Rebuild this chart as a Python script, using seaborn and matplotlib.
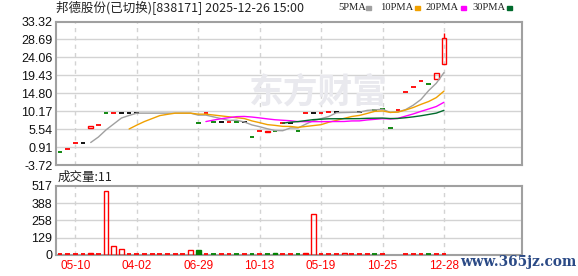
import numpy as np
import pandas as pd
import matplotlib
matplotlib.use("Agg")
import matplotlib.pyplot as plt
import seaborn as sns

# ---------------- data ----------------
opens = [-0.38, 0.40, 2.02, 2.02, 5.86, 6.69, 9.66, 9.66, 9.66, 9.66,
         9.66, 9.66, 9.66, 9.66, 9.66, 9.66, 9.66, 9.66, 7.13, 9.66,
         7.38, 7.38, 7.38, 7.38, 7.38, 3.57, 5.10, 5.17, 5.10, 7.13,
         7.13, 5.10, 9.66, 9.66, 9.66, 9.92, 9.92, 9.92, 9.92, 9.92,
         12.20, 10.60, 10.68, 5.86, 10.50, 15.24, 16.34, 18.03, 17.27, 18.54,
         22.35]
closes = [-0.38, 0.40, 2.02, 2.02, 6.36, 6.69, 9.66, 9.66, 9.66, 9.66,
          9.66, 9.66, 9.66, 9.66, 9.66, 9.66, 9.66, 9.66, 7.13, 9.66,
          7.38, 7.38, 7.38, 7.38, 7.38, 3.57, 5.10, 4.74, 5.10, 7.13,
          7.13, 5.10, 9.66, 9.66, 9.66, 9.92, 9.92, 9.92, 9.92, 9.92,
          12.20, 10.60, 10.68, 5.86, 10.50, 15.24, 16.34, 18.03, 17.27, 20.06,
          28.94]
highs = [-0.38, 0.40, 2.02, 2.02, 6.36, 6.69, 9.66, 9.66, 9.66, 9.66,
         9.66, 9.66, 9.66, 9.66, 9.66, 9.66, 9.66, 9.66, 7.13, 9.66,
         7.38, 7.38, 7.38, 7.38, 7.38, 3.57, 5.10, 5.17, 5.10, 7.13,
         7.13, 5.10, 9.66, 9.66, 9.66, 9.92, 9.92, 9.92, 9.92, 9.92,
         12.20, 10.60, 10.68, 5.86, 10.50, 15.24, 16.34, 18.03, 17.27, 20.06,
         30.47]
# candle style: r=hollow red (up), R=filled red, g=green, k=black, n=hidden under MA line
candle_style = list("grrkrrgrkk" "knnnnnnngr" "gkrgkgrRgr" "kgrkrrknnk" "rgggrrrrgr" "r")

volumes = [2, 2, 2, 2, 13, 2, 477, 63, 41, 2,
           2, 2, 2, 2, 2, 2, 2, 33, 35, 2,
           2, 2, 2, 2, 2, 2, 2, 2, 12, 2,
           2, 2, 10, 304, 2, 2, 2, 15, 2, 2,
           2, 2, 2, 0, 0, 2, 2, 2, 2, 2,
           2]
# volume style: r=hollow red, R=filled red, g=green filled
volume_style = list("rrrrRrrrrr" "rrrrrrrrgr" "grrgrgrggr" "rgRrrrrrrr" "rgrrrrrrgr" "r")

ma_windows = [5, 10, 20, 30]
ma_labels = ["5PMA", "10PMA", "20PMA", "30PMA"]
ma_colors = ["#a0a0a0", "#f0a000", "#ff00ff", "#006a2c"]

price_ticks = [33.32, 28.69, 24.06, 19.43, 14.80, 10.17, 5.54, 0.91, -3.72]
volume_ticks = [517, 388, 258, 129, 0]
date_pos = [2, 10, 18, 26, 34, 42, 50]
date_labels = ["05-10", "04-02", "06-29", "10-13", "05-19", "10-25", "12-28"]

title = "邦德股份(已切换)[838171] 2025-12-26 15:00"
vol_title = "成交量:11"

# ---------------- style ----------------
sns.set_theme(style="white")
plt.rcParams["font.family"] = ["Noto Sans CJK SC", "DejaVu Sans"]

W, H = 578, 276
fig = plt.figure(figsize=(W / 100, H / 100), dpi=100)

def axes_px(left, top, right, bottom):
    return fig.add_axes([left / W, 1 - bottom / H, (right - left) / W, (bottom - top) / H])

ax = axes_px(56, 21.5, 522, 165)
axv = axes_px(56, 186, 522, 254.7)

RED = "#ff0000"
GREEN = "#008000"
GRID = "#d3d3d3"
FRAME = "#a0a0a0"
TICKFONT = "Liberation Sans"

n = len(closes)
x = np.arange(n)
xlim = (-0.52, 60.16)
bw = 0.62

for a in (ax, axv):
    a.set_xlim(*xlim)
    for s in a.spines.values():
        s.set_color(FRAME)
        s.set_linewidth(1.5)
    a.tick_params(axis="both", length=0, pad=2.5)
    a.set_xticks([])
    for p in date_pos:
        a.axvline(p, color=GRID, lw=1, ls=(0, (3, 3)), zorder=0)

# price axis
ax.set_ylim(-3.72, 33.32)
ax.set_yticks(price_ticks)
ax.set_yticklabels([f"{t:.2f}" for t in price_ticks], fontsize=9, family=TICKFONT,
                   color="#111111")
for t in price_ticks[1:-1]:
    ax.axhline(t, color=GRID, lw=1, zorder=0)

# watermark
fig.text(318 / W, 1 - 92 / H, "东方财富", fontsize=25, color="#e9e9ee",
         ha="center", va="center", weight="bold", zorder=0)

# candles
for i in range(n):
    o, c, h, st = opens[i], closes[i], highs[i], candle_style[i]
    if st == "n":
        continue
    lo, hi = min(o, c), max(o, c)
    col = {"r": RED, "R": RED, "g": GREEN, "k": "black"}[st]
    fc = "none" if st == "r" else col
    if h > hi:
        ax.vlines(i, hi, h, color=col, lw=1, zorder=2)
    ht = hi - lo
    if ht < 0.05:
        ax.hlines(o, i - bw / 2, i + bw / 2, color=col, lw=1.3, zorder=2)
    else:
        ax.bar(i, ht, bottom=lo, width=bw, facecolor=fc, edgecolor=col, lw=1, zorder=2)

# moving averages
df = pd.DataFrame({"idx": x, "close": closes})
for w, lab, colr in zip(ma_windows, ma_labels, ma_colors):
    df[lab] = df["close"].rolling(w, min_periods=w).mean()
    sns.lineplot(data=df, x="idx", y=lab, ax=ax, color=colr, lw=1, zorder=3)
ax.set_xlabel("")
ax.set_ylabel("")
ax.set_xlim(*xlim)

# volume
axv.set_ylim(0, 517)
axv.set_yticks(volume_ticks)
axv.set_yticklabels([str(t) for t in volume_ticks], fontsize=9, family=TICKFONT,
                    color="#111111")
for t in volume_ticks[1:-1]:
    axv.axhline(t, color=GRID, lw=1, zorder=0)
for i in range(n):
    v, st = volumes[i], volume_style[i]
    if v <= 0:
        continue
    col = GREEN if st == "g" else RED
    fc = "none" if st == "r" else col
    if v < 5:
        axv.hlines(9, i - bw / 2, i + bw / 2, color=col, lw=1.3, zorder=3)
    else:
        axv.bar(i, v, width=bw, facecolor=fc, edgecolor=col, lw=1, zorder=3)

# x date labels
for p, lab in zip(date_pos, date_labels):
    xf = (56 + (p - xlim[0]) / (xlim[1] - xlim[0]) * (522 - 56)) / W
    fig.text(xf, 1 - 266 / H, lab, color=RED, fontsize=8.5, ha="center", va="center",
             family=TICKFONT)

# titles
fig.text(56 / W, 1 - 8 / H, title, fontsize=9, ha="left", va="center", color="#222222")
fig.text(58 / W, 1 - 177 / H, vol_title, fontsize=9, ha="left", va="center", color="#222222")

# legend
leg_x = [338, 380, 426, 472]
sq_x = [366, 415, 461, 507]
for lx, sx, lab, colr in zip(leg_x, sq_x, ma_labels, ma_colors):
    fig.text(lx / W, 1 - 8 / H, lab, fontsize=7.6, ha="left", va="center",
             family="Liberation Serif", color="#222222")
    fig.patches.append(matplotlib.patches.Rectangle((sx / W, 1 - 9.5 / H), 5 / W, 3 / H,
                                                    transform=fig.transFigure, color=colr))

# site watermark
fig.text(518 / W, 1 - 262 / H, "www.365jz.com", fontsize=9.8, ha="center", va="center",
         family="DejaVu Serif", weight="bold", color="#2b4a86")

fig.savefig("out.png", dpi=100)
